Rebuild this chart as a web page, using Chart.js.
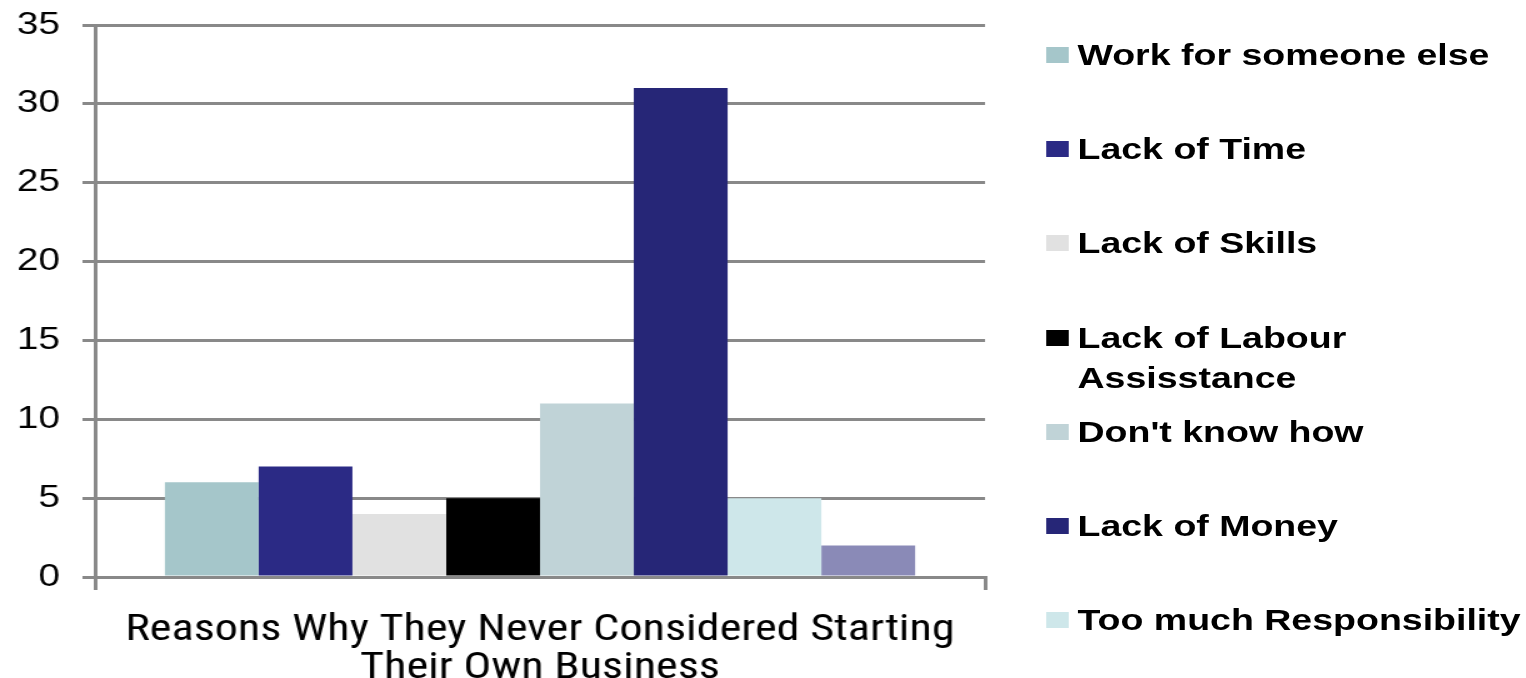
<!DOCTYPE html>
<html>
<head>
<meta charset="utf-8">
<script src="https://cdn.jsdelivr.net/npm/chart.js@4/dist/chart.umd.min.js"></script>
<style>
    html, body { margin: 0; padding: 0; background: #fff; overflow: hidden; }
    #wrap {
        position: relative;
        width: 1221px;
        height: 678px;
        transform: scaleX(1.25);
        transform-origin: 0 0;
    }
    #legend {
        position: absolute;
        left: 837px;
        top: 0;
        width: 384px;
        height: 678px;
        font-family: "Liberation Sans", Arial, sans-serif;
        font-weight: bold;
        font-size: 30px;
        color: #000;
    }
    .item { position: absolute; left: 0; line-height: 40px; white-space: pre; }
    .swatch { position: absolute; left: 0; top: 12px; width: 18px; height: 16px; }
    .text { display: block; padding-left: 25px; }
</style>
</head>
<body>
<div id="wrap">
    <canvas id="chart" width="1221" height="678"></canvas>
    <div id="legend"></div>
</div>
<script>
// categories, series and values
const categories = [['Reasons Why They Never Considered Starting', 'Their Own Business']];
const seriesNames = [
    'Work for someone else',
    'Lack of Time',
    'Lack of Skills',
    'Lack of Labour\nAssisstance',
    "Don't know how",
    'Lack of Money',
    'Too much Responsibility',
    'Other'
];
const seriesValues = [6, 7, 4, 5, 11, 31, 5, 2];
const seriesColors = ['#a5c6ca', '#2b2a85', '#e1e1e1', '#000000', '#c0d3d7', '#262677', '#cee7ea', '#8a8ab7'];
const yTicks = [0, 5, 10, 15, 20, 25, 30, 35];

const datasets = seriesNames.map((name, i) => ({
    label: name.replace('\n', ' '),
    data: [seriesValues[i]],
    backgroundColor: seriesColors[i],
    borderWidth: 0,
    categoryPercentage: 0.843,
    barPercentage: 1
}));

const chart = new Chart(document.getElementById('chart'), {
    type: 'bar',
    data: { labels: categories, datasets },
    options: {
        responsive: false,
        animation: false,
        devicePixelRatio: 1,
        layout: { padding: { left: 0, right: 433, top: 25, bottom: 0 } },
        plugins: { legend: { display: false }, tooltip: { enabled: false } },
        scales: {
            y: {
                min: yTicks[0],
                max: yTicks[yTicks.length - 1],
                afterFit: (scale) => {
                    scale.width = 76;
                    // keep the plot top fixed by the layout padding only
                    scale.paddingTop = 0;
                    scale.paddingBottom = 0;
                },
                afterBuildTicks: (scale) => { scale.ticks = yTicks.map(v => ({ value: v })); },
                ticks: {
                    padding: 18,
                    color: '#000',
                    font: { family: "'Liberation Sans', Arial, sans-serif", size: 31 }
                },
                grid: { color: '#898989', lineWidth: 3, tickLength: 10 },
                border: { color: '#898989', width: 3 }
            },
            x: {
                afterFit: (scale) => { scale.height = 101; },
                ticks: {
                    maxRotation: 0,
                    autoSkip: false,
                    padding: 22,
                    color: '#000',
                    font: { family: "'Roboto Condensed', 'Liberation Sans', sans-serif", size: 37, lineHeight: 1.03 }
                },
                grid: { drawOnChartArea: false, color: '#898989', lineWidth: 3, tickLength: 13 },
                border: { color: '#898989', width: 3 }
            }
        }
    }
});

// legend beside the plot, one evenly spaced slot per series
const legend = document.getElementById('legend');
chart.data.datasets.forEach((ds, i) => {
    const item = document.createElement('div');
    item.className = 'item';
    item.style.top = (35 + i * 94.2) + 'px';
    item.innerHTML = `<span class="swatch" style="background:${ds.backgroundColor}"></span><span class="text"></span>`;
    item.querySelector('.text').textContent = seriesNames[i];
    legend.appendChild(item);
});
</script>
</body>
</html>
